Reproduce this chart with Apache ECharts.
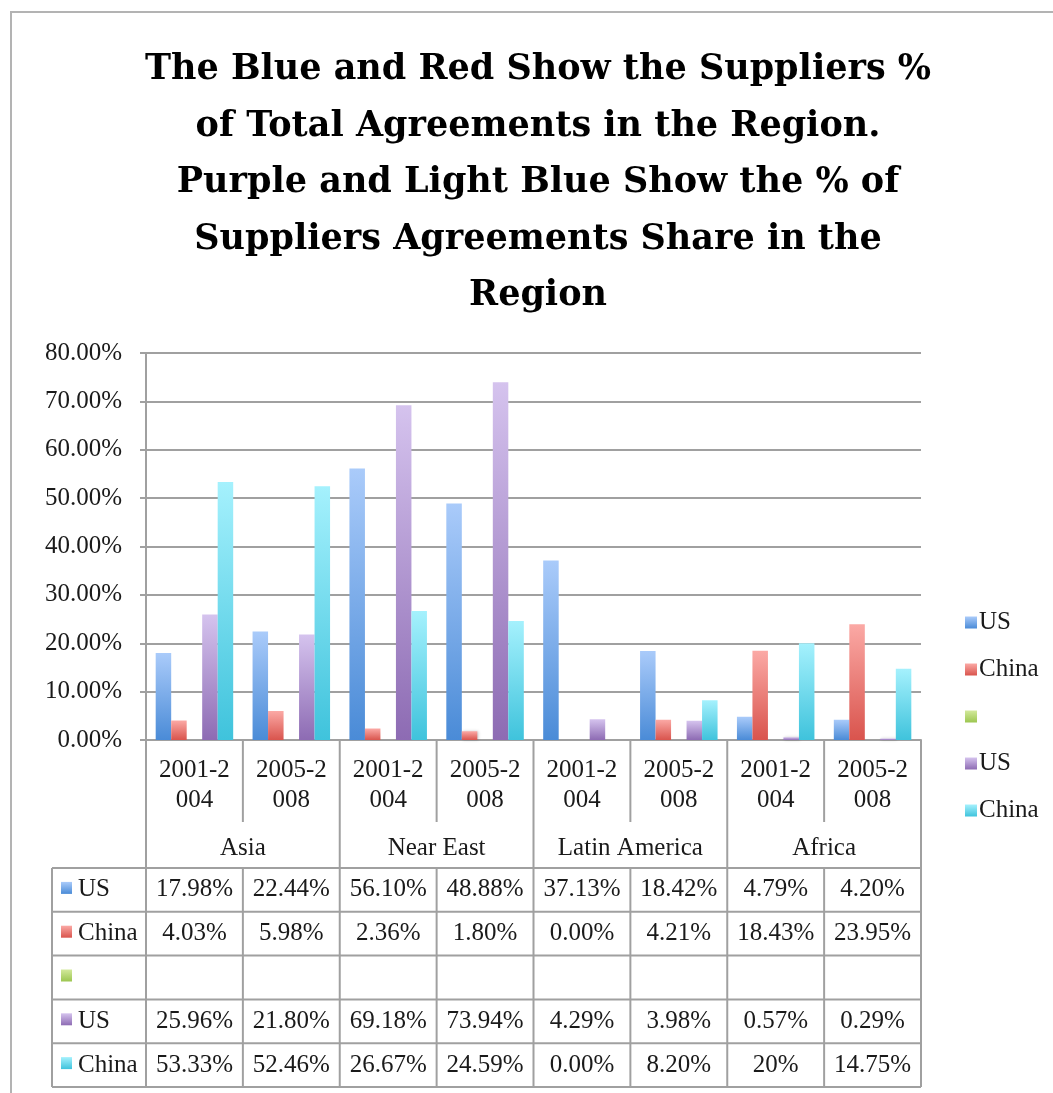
<!DOCTYPE html>
<html>
<head>
<meta charset="utf-8">
<script src="https://cdn.jsdelivr.net/npm/echarts@6/dist/echarts.min.js"></script>
<style>
html,body{margin:0;padding:0;background:#fff;}
#main{width:1053px;height:1093px;}
</style>
</head>
<body>
<div id="main"></div>
<script>
// ---- data ----
const titleLines = [
  'The Blue and Red Show the Suppliers %',
  'of Total Agreements in the Region.',
  'Purple and Light Blue Show the % of',
  'Suppliers Agreements Share in the',
  'Region'
];
const periods = ['2001-2004','2005-2008','2001-2004','2005-2008','2001-2004','2005-2008','2001-2004','2005-2008'];
const regions = ['Asia','Near East','Latin America','Africa'];
const seriesNames = ['US','China','','US','China'];
const usTotal    = [17.98, 22.44, 56.10, 48.88, 37.13, 18.42, 4.79, 4.20];
const chinaTotal = [4.03, 5.98, 2.36, 1.80, 0.00, 4.21, 18.43, 23.95];
const blankSeries = [null, null, null, null, null, null, null, null];
const usShare    = [25.96, 21.80, 69.18, 73.94, 4.29, 3.98, 0.57, 0.29];
const chinaShare = [53.33, 52.46, 26.67, 24.59, 0.00, 8.20, 20, 14.75];
const chinaShareLabels = ['53.33%','52.46%','26.67%','24.59%','0.00%','8.20%','20%','14.75%'];
const yTicks = [0, 10, 20, 30, 40, 50, 60, 70, 80];

// ---- styles ----
const FONT = 'Liberation Serif';
const FS = 25;
const TITLE_FONT = 'DejaVu Serif';
const TXT = '#1a1a1a';
const LINE = '#a0a0a0';
function grad(top, bottom) {
  return new echarts.graphic.LinearGradient(0, 0, 0, 1, [
    {offset: 0, color: top}, {offset: 1, color: bottom}
  ]);
}
const colors = [
  ['#aacbfa', '#4a8bd7'],
  ['#fba9a5', '#d9544d'],
  ['#d3e99c', '#9cc650'],
  ['#d5c3ee', '#8d6bb3'],
  ['#a5f1fd', '#3fc3dc']
];
const dataSets = [usTotal, chinaTotal, blankSeries, usShare, chinaShare];
const uniqueNames = ['US', 'China', ' ', 'US ', 'China '];

const chart = echarts.init(document.getElementById('main'), null, {renderer: 'canvas'});

const series = dataSets.map((d, i) => ({
  name: uniqueNames[i],
  type: 'bar',
  data: d,
  barGap: '0%',
  barCategoryGap: '20%',
  itemStyle: {
    color: grad(colors[i][0], colors[i][1]),
    shadowColor: 'rgba(0,0,0,0.22)',
    shadowBlur: 3,
    shadowOffsetX: 1,
    shadowOffsetY: 0
  },
  emphasis: {disabled: true}
}));

const option = {
  animation: false,
  backgroundColor: '#ffffff',
  grid: {left: 146, right: 132, top: 353, bottom: 353, containLabel: false},
  legend: {
    orient: 'vertical',
    left: 960,
    top: 605,
    itemWidth: 12,
    itemHeight: 12,
    itemGap: 22,
    icon: 'rect',
    selectedMode: false,
    data: uniqueNames,
    formatter: n => (n.trim() || '\u00a0'),
    textStyle: {fontFamily: FONT, fontSize: FS, color: TXT, lineHeight: 25, height: 25, padding: [0, 0, 0, -3]}
  },
  xAxis: {
    type: 'category',
    data: periods,
    axisLine: {show: true, lineStyle: {color: LINE, width: 2}},
    axisTick: {show: false},
    axisLabel: {
      fontFamily: FONT, fontSize: FS, color: TXT, lineHeight: 30, margin: 15,
      interval: 0,
      formatter: v => v.slice(0, 6) + '\n' + v.slice(6)
    }
  },
  yAxis: {
    type: 'value',
    min: 0, max: 80, interval: 10,
    axisLine: {show: true, lineStyle: {color: LINE, width: 2}},
    axisTick: {show: true, length: 6, lineStyle: {color: LINE, width: 2}},
    splitLine: {show: true, lineStyle: {color: LINE, width: 2}},
    axisLabel: {
      fontFamily: FONT, fontSize: FS, color: TXT, margin: 24,
      formatter: v => (yTicks.includes(v) ? v.toFixed(2) + '%' : '')
    }
  },
  series: series
};
chart.setOption(option);

// ---- data table & title drawn as graphics from axis geometry ----
const y0 = chart.convertToPixel({yAxisIndex: 0}, 0);
const centers = periods.map((p, i) => chart.convertToPixel({xAxisIndex: 0}, i));
const cw = centers[1] - centers[0];
const edges = [centers[0] - cw / 2].concat(centers.map(c => c + cw / 2));
const xR = edges[edges.length - 1];
const labelBottom = y0 + 82;
const rowTop = y0 + 128;
const rowH = 43.8;
const tableLeft = 52;
const nRows = 5;
const tableBottom = rowTop + rowH * nRows;

const g = [];
function line(x1, y1, x2, y2, w, c) {
  g.push({type: 'line', silent: true, z: 10,
    shape: {x1: x1, y1: y1, x2: x2, y2: y2},
    style: {stroke: c || LINE, lineWidth: w || 2}});
}
function text(x, y, s, align) {
  g.push({type: 'text', silent: true, z: 11, x: x, y: y,
    style: {text: s, fontFamily: FONT, fontSize: FS, fill: TXT, align: align || 'center', verticalAlign: 'middle'}});
}

// outer frame (partial, as cropped)
g.push({type: 'rect', silent: true, z: 1, shape: {x: 11, y: 12, width: 1100, height: 1150},
  style: {fill: null, stroke: '#b3b3b3', lineWidth: 2}});

// title
g.push({type: 'text', silent: true, z: 11, x: 538, y: 42,
  style: {text: titleLines.join('\n'), fontFamily: TITLE_FONT, fontWeight: 'bold', fontSize: 35,
    lineHeight: 56.5, fill: '#000', align: 'center', verticalAlign: 'top'}});

// vertical lines
edges.forEach((x, i) => {
  if (i % 2 === 0) {
    line(x, y0, x, tableBottom);
  } else {
    line(x, y0, x, labelBottom);
    line(x, rowTop, x, tableBottom);
  }
});
// region labels
regions.forEach((r, k) => {
  const cx = (edges[2 * k] + edges[2 * k + 2]) / 2;
  text(cx, y0 + 108, r);
});
// horizontal table lines
for (let r = 0; r <= nRows; r++) {
  line(tableLeft, rowTop + r * rowH, xR, rowTop + r * rowH);
}
line(tableLeft, rowTop, tableLeft, tableBottom);

const rowValues = [
  usTotal.map(v => v.toFixed(2) + '%'),
  chinaTotal.map(v => v.toFixed(2) + '%'),
  blankSeries.map(v => ''),
  usShare.map(v => v.toFixed(2) + '%'),
  chinaShareLabels
];
rowValues.forEach((vals, r) => {
  const cy = rowTop + r * rowH + rowH / 2;
  g.push({type: 'rect', silent: true, z: 11,
    shape: {x: 61, y: cy - 8, width: 11, height: 12},
    style: {fill: grad(colors[r][0], colors[r][1])}});
  text(78, cy, seriesNames[r], 'left');
  vals.forEach((s, i) => text(centers[i], cy, s));
});

chart.setOption({graphic: g});
</script>
</body>
</html>
